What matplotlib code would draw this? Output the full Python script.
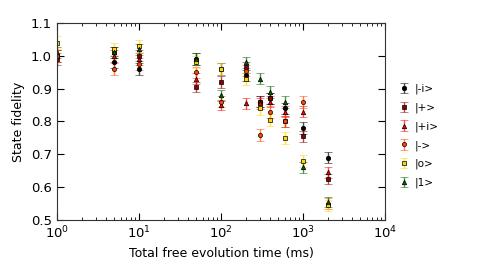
import matplotlib
matplotlib.use("Agg")
import matplotlib.pyplot as plt
import numpy as np

times = [1, 5, 10, 50, 100, 200, 300, 400, 600, 1000, 2000]

fid_mi = [1.00, 0.98, 0.96, 0.99, 0.96, 0.94, 0.86, 0.87, 0.84, 0.78, 0.69]
fid_p = [0.99, 1.01, 1.00, 0.905, 0.92, 0.965, 0.86, 0.87, 0.80, 0.755, 0.625]
fid_pi = [1.00, 1.00, 0.99, 0.93, 0.85, 0.855, 0.855, 0.86, 0.83, 0.83, 0.645]
fid_m = [1.00, 0.96, 0.975, 0.95, 0.86, 0.955, 0.76, 0.83, 0.80, 0.86, 0.55]
fid_0 = [1.04, 1.02, 1.03, 0.98, 0.96, 0.93, 0.84, 0.805, 0.75, 0.68, 0.545]
fid_1 = [1.01, 1.01, 1.02, 0.99, 0.88, 0.98, 0.93, 0.89, 0.86, 0.66, 0.555]

err_mi = [0.018, 0.018, 0.017, 0.017, 0.017, 0.017, 0.017, 0.017, 0.017, 0.017, 0.016]
err_p = [0.017, 0.017, 0.017, 0.016, 0.017, 0.017, 0.017, 0.017, 0.017, 0.017, 0.016]
err_pi = [0.018, 0.018, 0.017, 0.017, 0.016, 0.016, 0.017, 0.017, 0.017, 0.017, 0.017]
err_m = [0.019, 0.019, 0.018, 0.017, 0.017, 0.017, 0.018, 0.018, 0.018, 0.019, 0.017]
err_0 = [0.02, 0.019, 0.018, 0.018, 0.018, 0.018, 0.019, 0.019, 0.019, 0.019, 0.017]
err_1 = [0.018, 0.018, 0.017, 0.017, 0.017, 0.017, 0.017, 0.018, 0.018, 0.017, 0.016]

labels = ["|-i>", "|+>", "|+i>", "|->", "|o>", "|1>"]
series = [fid_mi, fid_p, fid_pi, fid_m, fid_0, fid_1]
errors = [err_mi, err_p, err_pi, err_m, err_0, err_1]
colors = ["black", "#8b0000", "#ff0000", "#ff4500", "#ffd700", "#006400"]
markers = ["o", "s", "^", "o", "s", "^"]
msizes = [3.2, 3.5, 3.2, 3.0, 3.5, 3.2]

fig = plt.figure(figsize=(4.82, 2.73), dpi=100)
ax = fig.add_axes([0.118, 0.194, 0.681, 0.722])

for y, e, lab, c, m, ms in zip(series, errors, labels, colors, markers, msizes):
    eb = ax.errorbar(times, y, yerr=e, fmt=m, color=c, ecolor=c, mec="black",
                     mew=0.5, ms=ms, capsize=3, elinewidth=1.0, capthick=1.0,
                     label=lab)
    for art in eb[1] + eb[2]:
        art.set_alpha(0.7)

ax.set_xscale("log")
ax.set_xlim(1, 1e4)
ax.set_ylim(0.5, 1.1)
ax.set_yticks([0.5, 0.6, 0.7, 0.8, 0.9, 1.0, 1.1])
ax.tick_params(which="both", direction="in", top=True, right=True, labelsize=9.5)
ax.tick_params(which="major", length=5)
ax.tick_params(which="minor", length=2.5)
for s in ax.spines.values():
    s.set_color("#333333")
ax.set_xlabel("Total free evolution time (ms)", fontsize=9)
ax.set_ylabel("State fidelity", fontsize=9)

ax.legend(loc="upper left", bbox_to_anchor=(1.01, 0.74), frameon=False,
          fontsize=7.5, handletextpad=0.4, labelspacing=0.8, handlelength=1.2)

fig.savefig("out.png", dpi=100, facecolor="white")
